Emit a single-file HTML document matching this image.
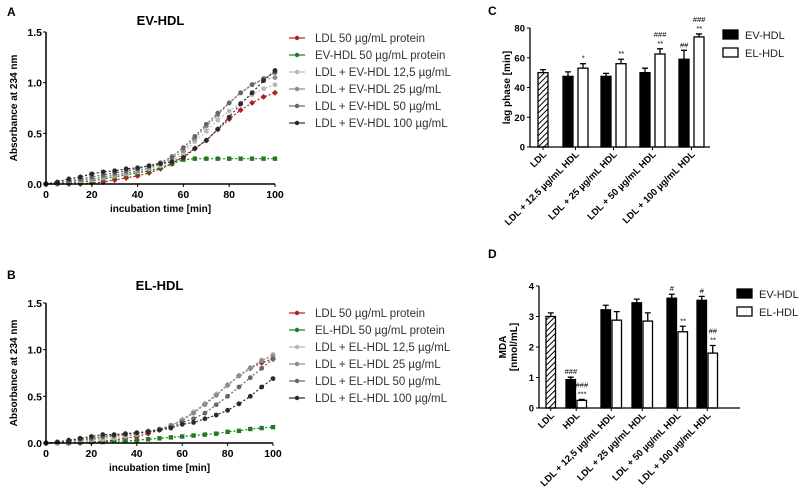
<!DOCTYPE html>
<html><head><meta charset="utf-8"><style>
body{margin:0;background:#fff}
svg{display:block;font-family:"Liberation Sans",Arial,sans-serif}
</style></head><body>
<svg id="fig" width="800" height="499" viewBox="0 0 800 499" xmlns="http://www.w3.org/2000/svg">
<defs>
<pattern id="hatch" patternUnits="userSpaceOnUse" width="4" height="4" patternTransform="rotate(45)">
<rect width="4" height="4" fill="#fff"/><line x1="0" y1="0" x2="0" y2="4" stroke="#000" stroke-width="2"/>
</pattern>
</defs>
<g id="root"></g>
</svg>
<script>
const times=[0,5,10,15,20,25,30,35,40,45,50,55,60,65,70,75,80,85,90,95,100];
const legendA=["LDL 50 µg/mL protein","EV-HDL 50 µg/mL protein","LDL + EV-HDL 12,5 µg/mL","LDL + EV-HDL 25 µg/mL","LDL + EV-HDL 50 µg/mL","LDL + EV-HDL 100 µg/mL"];
const legendB=["LDL 50 µg/mL protein","EL-HDL 50 µg/mL protein","LDL + EL-HDL 12,5 µg/mL","LDL + EL-HDL 25 µg/mL","LDL + EL-HDL 50 µg/mL","LDL + EL-HDL 100 µg/mL"];
const colors=["#b02020","#1f7a1f","#b8b8b8","#8c8c8c","#666666","#2a2a2a"];
const A_ldl=[0,0,0,0,0.01,0.02,0.04,0.06,0.08,0.11,0.15,0.2,0.27,0.35,0.43,0.54,0.64,0.73,0.8,0.86,0.9];
const A_hdl=[0,0.005,0.01,0.02,0.03,0.05,0.07,0.09,0.11,0.13,0.16,0.2,0.24,0.25,0.25,0.25,0.25,0.25,0.25,0.25,0.25];
const A_125=[0,0.01,0.02,0.03,0.04,0.06,0.08,0.1,0.12,0.15,0.18,0.23,0.3,0.42,0.52,0.63,0.72,0.8,0.88,0.94,0.98];
const A_25=[0,0.01,0.02,0.04,0.05,0.07,0.09,0.11,0.13,0.16,0.2,0.25,0.33,0.45,0.57,0.68,0.8,0.9,0.98,1.03,1.05];
const A_50=[0,0.01,0.03,0.05,0.07,0.09,0.11,0.13,0.15,0.18,0.21,0.27,0.36,0.47,0.59,0.7,0.8,0.9,0.98,1.04,1.1];
const A_100=[0,0.02,0.05,0.07,0.1,0.12,0.13,0.15,0.16,0.18,0.2,0.22,0.26,0.35,0.43,0.54,0.66,0.79,0.9,1.02,1.12];
const B_ldl=[0,0,0,0,0.01,0.02,0.03,0.05,0.07,0.1,0.14,0.18,0.25,0.33,0.42,0.52,0.62,0.72,0.8,0.86,0.9];
const B_hdl=[0,0,0,0.005,0.01,0.01,0.02,0.02,0.03,0.04,0.05,0.06,0.07,0.08,0.09,0.1,0.12,0.13,0.15,0.16,0.17];
const B_125=[0,0,0.01,0.02,0.03,0.04,0.05,0.07,0.09,0.12,0.15,0.19,0.25,0.33,0.42,0.52,0.62,0.72,0.81,0.89,0.95];
const B_25=[0,0.01,0.02,0.03,0.04,0.06,0.07,0.09,0.1,0.13,0.15,0.19,0.24,0.32,0.41,0.51,0.62,0.72,0.8,0.88,0.93];
const B_50=[0,0.01,0.02,0.04,0.05,0.07,0.08,0.09,0.11,0.12,0.14,0.17,0.22,0.26,0.32,0.41,0.5,0.6,0.7,0.8,0.9];
const B_100=[0,0.01,0.03,0.05,0.07,0.09,0.09,0.1,0.11,0.12,0.14,0.16,0.2,0.22,0.26,0.3,0.35,0.42,0.5,0.6,0.69];
const lineTicks=[0,20,40,60,80,100];
const lineYTicks=["0.0","0.5","1.0","1.5"];
const groupsC=["LDL","LDL + 12.5 µg/mL HDL","LDL + 25 µg/mL HDL","LDL + 50 µg/mL HDL","LDL + 100 µg/mL HDL"];
const C_ldl=[50],C_ldlErr=[2];
const C_ev=[47.5,47.5,50,59],C_evErr=[3,2,3,6];
const C_el=[53,56,62.5,74],C_elErr=[3,3,3.5,2];
const C_evAnn=["","","","##"],C_elAnn=[["*"],["**"],["**","###"],["**","###"]];
const C_ticks=[0,20,40,60,80];
const groupsD=["LDL","HDL","LDL + 12,5 µg/mL HDL","LDL + 25 µg/mL HDL","LDL + 50 µg/mL HDL","LDL + 100 µg/mL HDL"];
const D_ldl=[3.0],D_ldlErr=[0.12];
const D_ev=[0.93,3.22,3.45,3.6,3.53],D_evErr=[0.08,0.15,0.12,0.13,0.13];
const D_el=[0.25,2.88,2.85,2.5,1.8],D_elErr=[0.03,0.28,0.27,0.18,0.25];
const D_evAnn=["###","","","#","#"],D_elAnn=[["***","###"],[],[],["**"],["**","##"]];
const D_ticks=[0,1,2,3,4];

const NS="http://www.w3.org/2000/svg";
const root=document.getElementById('root');
function mk(tag,attrs,parent,text){const e=document.createElementNS(NS,tag);for(const k in attrs)e.setAttribute(k,attrs[k]);if(text!==undefined)e.textContent=text;(parent||root).appendChild(e);return e;}

function linePanel(o){
  const g=mk('g',{});
  
  
  const sx=v=>o.x0+(v/100)*(o.x1-o.x0);
  const sy=v=>o.y0-(v/1.5)*(o.y0-o.y1);
  let t=mk('text',{x:o.letterX,y:o.letterY,'font-size':12,'font-weight':'bold'},g,o.letter);
  
  t=mk('text',{x:(o.x0+o.x1)/2,y:o.titleY,'font-size':13,'font-weight':'bold','text-anchor':'middle'},g,o.title);
  
  o.series.forEach((s,i)=>{
    const pts=times.map((tm,j)=>sx(tm)+','+sy(s[j])).join(' ');
    const pl=mk('polyline',{points:pts,fill:'none',stroke:colors[i],'stroke-width':1.2,'stroke-dasharray':'2,2'},g);
    
    times.forEach((tm,j)=>{
      let m;
      if(i===1){m=mk('rect',{x:sx(tm)-2.2,y:sy(s[j])-2.2,width:4.4,height:4.4,fill:colors[i]},g);}
      else if(i===0){m=mk('path',{d:`M${sx(tm)},${sy(s[j])-3}l3,3l-3,3l-3,-3z`,fill:colors[i]},g);}
      else{m=mk('circle',{cx:sx(tm),cy:sy(s[j]),r:2.4,fill:colors[i]},g);}
      
    });
  });
  let ax=mk('line',{x1:o.x0,y1:o.y0,x2:o.x1,y2:o.y0,stroke:'#000','stroke-width':1.5},g);
  
  ax=mk('line',{x1:o.x0,y1:o.y0,x2:o.x0,y2:o.y1,stroke:'#000','stroke-width':1.5},g);
  
  lineTicks.forEach(v=>{
    mk('line',{x1:sx(v),y1:o.y0,x2:sx(v),y2:o.y0+3,stroke:'#000'},g);
    const tt=mk('text',{x:sx(v),y:o.y0+14,'font-size':10.5,'font-weight':'bold','text-anchor':'middle'},g,v);
    
  });
  lineYTicks.forEach(v=>{
    const y=sy(parseFloat(v));
    mk('line',{x1:o.x0-3,y1:y,x2:o.x0,y2:y,stroke:'#000'},g);
    const tt=mk('text',{x:o.x0-4,y:y+4,'font-size':10.5,'font-weight':'bold','text-anchor':'end'},g,v);
    
  });
  t=mk('text',{x:(o.x0+o.x1)/2,y:o.y0+28,'font-size':10,'font-weight':'bold','text-anchor':'middle'},g,'incubation time [min]');
  
  const cy=(o.y0+o.y1)/2;
  t=mk('text',{x:17,y:cy,'font-size':10,'font-weight':'bold','text-anchor':'middle',transform:`rotate(-90 17 ${cy})`},g,'Absorbance at 234 nm');
  
  o.legend.forEach((l,i)=>{
    const y=o.legY+i*17;
    const lg=mk('g',{},g);
    
    mk('line',{x1:289,y1:y,x2:305,y2:y,stroke:colors[i],'stroke-width':1.2},lg);
    mk('circle',{cx:297,cy:y,r:2.2,fill:colors[i]},lg);
    mk('text',{x:315,y:y+4,'font-size':11.5,fill:'#333'},lg,l);
  });
}
linePanel({name:'panel-a',letter:'A',letterX:7,letterY:16,title:'EV-HDL',titleY:25,x0:46,x1:275,y0:184,y1:32,series:[A_ldl,A_hdl,A_125,A_25,A_50,A_100],legend:legendA,legY:38});
linePanel({name:'panel-b',letter:'B',letterX:7,letterY:279,title:'EL-HDL',titleY:290,x0:46,x1:273,y0:443,y1:303,series:[B_ldl,B_hdl,B_125,B_25,B_50,B_100],legend:legendB,legY:313});

function barPanel(o){
  const g=mk('g',{});
  
  
  const sy=v=>o.y0-(v/o.ymax)*(o.y0-o.y1);
  let t=mk('text',{x:o.letterX,y:o.letterY,'font-size':12,'font-weight':'bold'},g,o.letter);
  
  function bar(x,v,e,fill,nm,ann){
    const b=mk('rect',{x:x,y:sy(v),width:o.bw,height:o.y0-sy(v),fill:fill,stroke:'#000','stroke-width':1.3},g);
    
    const cx=x+o.bw/2;
    const eb=mk('path',{d:`M${cx},${sy(v)}V${sy(v+e)}M${cx-3},${sy(v+e)}H${cx+3}`,stroke:'#000','stroke-width':1.3,fill:'none'},g);
    
    (ann||[]).forEach((a,k)=>{
      if(!a)return;
      const at=mk('text',{x:cx,y:sy(v+e)-3-k*9,'font-size':7.5,'font-style':'italic','text-anchor':'middle'},g,a);
      
    });
  }
  bar(o.ldlX,o.ldl[0],o.ldlErr[0],'url(#hatch)','bar-ldl',[]);
  o.ev.forEach((v,i)=>{
    bar(o.evX[i],v,o.evErr[i],'#000','bar-ev-'+i,[o.evAnn[i]]);
    bar(o.evX[i]+o.gap,o.el[i],o.elErr[i],'#fff','bar-el-'+i,o.elAnn[i]);
  });
  let ax=mk('line',{x1:o.x0,y1:o.y0,x2:o.x1,y2:o.y0,stroke:'#000','stroke-width':1.3},g);
  
  ax=mk('line',{x1:o.x0,y1:o.y0,x2:o.x0,y2:o.y1,stroke:'#000','stroke-width':1.3},g);
  
  o.ticks.forEach(v=>{
    mk('line',{x1:o.x0-3,y1:sy(v),x2:o.x0,y2:sy(v),stroke:'#000'},g);
    const tt=mk('text',{x:o.x0-5,y:sy(v)+3.5,'font-size':9.5,'font-weight':'bold','text-anchor':'end'},g,v);
    
  });
  const centers=[o.ldlX+o.bw/2].concat(o.evX.map(x=>x+(o.gap+o.bw)/2));
  o.groups.forEach((l,i)=>{
    const x=centers[i]+4,y=o.y0+8;
    mk('line',{x1:centers[i],y1:o.y0,x2:centers[i],y2:o.y0+3,stroke:'#000'},g);
    const tt=mk('text',{x:x,y:y,'font-size':9.5,'font-weight':'bold','text-anchor':'end',transform:`rotate(-45 ${x} ${y})`},g,l);
    
  });
  o.ylab.forEach((l,k)=>{
    const x=o.ylabX+k*11, cy=(o.y0+o.y1)/2;
    const tt=mk('text',{x:x,y:cy,'font-size':10,'font-weight':'bold','text-anchor':'middle',transform:`rotate(-90 ${x} ${cy})`},g,l);
    
  });
  [['EV-HDL','#000'],['EL-HDL','#fff']].forEach((l,i)=>{
    const y=o.legY+i*18;
    const lg=mk('g',{},g);
    
    mk('rect',{x:o.legX,y:y-5,width:15,height:9,fill:l[1],stroke:'#000','stroke-width':1.3},lg);
    mk('text',{x:o.legX+22,y:y+4,'font-size':11,fill:'#222'},lg,l[0]);
  });
}
barPanel({name:'panel-c',letter:'C',letterX:488,letterY:15,ymax:80,y0:147,y1:28,x0:530,x1:710,bw:10,gap:15,
  ldlX:538,ldl:C_ldl,ldlErr:C_ldlErr,evX:[563,601,640,679],ev:C_ev,evErr:C_evErr,el:C_el,elErr:C_elErr,evAnn:C_evAnn,elAnn:C_elAnn,
  ticks:C_ticks,groups:groupsC,ylab:['lag phase [min]'],ylabX:510,legX:723,legY:35});
barPanel({name:'panel-d',letter:'D',letterX:488,letterY:258,ymax:4,y0:408,y1:286,x0:539,x1:740,bw:9.5,gap:11,
  ldlX:546,ldl:D_ldl,ldlErr:D_ldlErr,evX:[566,601,632,667,697],ev:D_ev,evErr:D_evErr,el:D_el,elErr:D_elErr,evAnn:D_evAnn,elAnn:D_elAnn,
  ticks:D_ticks,groups:groupsD,ylab:['MDA','[nmol/mL]'],ylabX:506,legX:737,legY:294});
</script>
</body></html>
